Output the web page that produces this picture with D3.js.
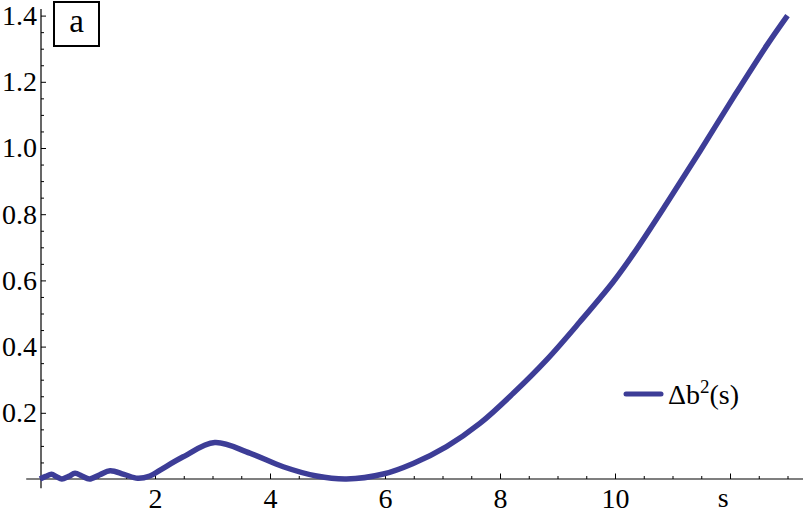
<!DOCTYPE html>
<html>
<head>
<meta charset="utf-8">
<script src="https://cdn.jsdelivr.net/npm/d3@7"></script>
</head>
<body style="margin:0">
<div id="container"></div>
<script>
/* DATA */
const sValues = [0, 0.1, 0.2, 0.29, 0.38, 0.5, 0.61, 0.73, 0.86, 1.04, 1.22, 1.46, 1.7,
  1.91, 2.09, 2.49, 3.04, 3.65, 4.23, 4.81, 5.33, 5.97, 6.49, 7.07, 7.65, 8.23,
  8.81, 9.39, 9.97, 10.32, 10.9, 11.48, 12.06, 12.64, 13.0]
const deltaB2 = [0, 0.008, 0.014, 0.007, 0, 0.008, 0.017, 0.009, 0, 0.013, 0.025, 0.014, 0.002,
  0.009, 0.027, 0.067, 0.110, 0.078, 0.037, 0.009, 0.0, 0.015, 0.047, 0.098, 0.168, 0.259,
  0.36, 0.475, 0.596, 0.68, 0.833, 0.991, 1.153, 1.31, 1.40]
const xTicks = [2, 4, 6, 8, 10, 12]
const xTickLabels = ["2", "4", "6", "8", "10", ""]
const yTicks = [0.2, 0.4, 0.6, 0.8, 1.0, 1.2, 1.4]
const yTickLabels = ["0.2", "0.4", "0.6", "0.8", "1.0", "1.2", "1.4"]
const legendLabel = "Δb"
const panelLabel = "a"

/* CONSTANTS */
const width = 803,
  height = 517,
  lineColor = "#3d3d97",
  serif = '"Times New Roman"'

const data = sValues.map((s, i) => ({ s: s, v: deltaB2[i] }))

const svg = d3.select("#container")
  .append("svg")
  .attr("width", width)
  .attr("height", height)
  .style("font-family", serif)

/* SCALES */
const xScale = d3.scaleLinear()
  .domain([0, 13])
  .range([40, 787.5])

const yScale = d3.scaleLinear()
  .domain([0, 1.4])
  .range([479, 15.6])

/* AXES */
// minor ticks
svg.append("g")
  .attr("transform", `translate(0, ${yScale(0)})`)
  .call(d3.axisBottom(xScale)
    .tickValues(d3.range(0.5, 13.01, 0.5).filter(d => d % 2 !== 0))
    .tickSize(-3)
    .tickFormat(""))
  .call(g => g.select(".domain").remove())

svg.append("g")
  .attr("transform", `translate(${xScale(0) + 1}, 0)`)
  .call(d3.axisLeft(yScale)
    .tickValues(d3.range(0.05, 1.41, 0.05).filter(d => Math.abs(d * 5 - Math.round(d * 5)) > 0.01))
    .tickSize(-3)
    .tickFormat(""))
  .call(g => g.select(".domain").remove())

// major ticks
const xAxis = d3.axisBottom(xScale)
  .tickValues(xTicks)
  .tickSize(-5.5)
  .tickPadding(9)
  .tickFormat((d, i) => xTickLabels[i])

svg.append("g")
  .attr("transform", `translate(0, ${yScale(0)})`)
  .call(xAxis)
  .attr("font-family", null)
  .call(g => g.select(".domain").remove())
  .call(g => g.selectAll("text").attr("font-size", 28).attr("fill", "#000")
    .style("font-family", serif))

const yAxis = d3.axisLeft(yScale)
  .tickValues(yTicks)
  .tickSize(-5)
  .tickPadding(4)
  .tickFormat((d, i) => yTickLabels[i])

svg.append("g")
  .attr("transform", `translate(${xScale(0) + 1}, 0)`)
  .call(yAxis)
  .attr("font-family", null)
  .call(g => g.select(".domain").remove())
  .call(g => g.selectAll("text").attr("font-size", 28).attr("fill", "#000")
    .style("font-family", serif))

// axis lines
svg.append("line")
  .attr("x1", xScale(-0.24)).attr("x2", width)
  .attr("y1", yScale(0)).attr("y2", yScale(0))
  .attr("stroke", "#000").attr("stroke-width", 1.2)

svg.append("line")
  .attr("x1", xScale(0) + 1).attr("x2", xScale(0) + 1)
  .attr("y1", yScale(-0.028)).attr("y2", yScale(1.42))
  .attr("stroke", "#000").attr("stroke-width", 1.2)

// axis label
svg.append("text")
  .attr("x", xScale(11.88))
  .attr("y", 507)
  .attr("text-anchor", "middle")
  .attr("font-size", 28)
  .style("font-family", serif)
  .text("s")

/* LINE */
const line = d3.line()
  .x(d => xScale(d.s))
  .y(d => yScale(d.v))
  .curve(d3.curveCatmullRom.alpha(0.5))

svg.append("path")
  .datum(data)
  .attr("d", line)
  .attr("fill", "none")
  .attr("stroke", lineColor)
  .attr("stroke-width", 5.5)
  .attr("stroke-linejoin", "round")

/* LEGEND */
svg.append("line")
  .attr("x1", 626).attr("x2", 661)
  .attr("y1", 394).attr("y2", 394)
  .attr("stroke", lineColor)
  .attr("stroke-width", 5)
  .attr("stroke-linecap", "round")

const legendText = svg.append("text")
  .attr("x", 668)
  .attr("y", 404)
  .attr("font-size", 28)
  .style("font-family", serif)
legendText.append("tspan").text(legendLabel)
legendText.append("tspan").attr("font-size", 19).attr("dy", -11).text("2")
legendText.append("tspan").attr("dy", 11).text("(s)")

/* PANEL LABEL */
svg.append("rect")
  .attr("x", 54).attr("y", 2)
  .attr("width", 45).attr("height", 44)
  .attr("fill", "white")
  .attr("stroke", "#000")
  .attr("stroke-width", 2)

svg.append("text")
  .attr("x", 76.5)
  .attr("y", 32)
  .attr("text-anchor", "middle")
  .attr("font-size", 33)
  .style("font-family", serif)
  .text(panelLabel)
</script>
</body>
</html>
